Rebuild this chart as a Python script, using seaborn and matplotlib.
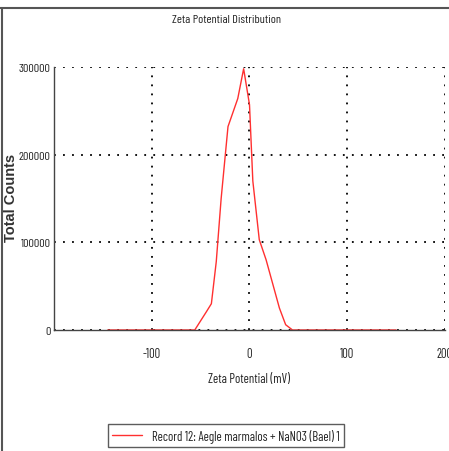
import matplotlib
matplotlib.use("Agg")
import matplotlib.pyplot as plt
import matplotlib.lines as mlines
import seaborn as sns
import pandas as pd

zeta_mv = [-145, -56, -44, -39, -34, -29, -22, -12, -6, 0, 3.4, 10, 17, 30.6, 37, 44, 150]
total_counts = [0, 0, 21000, 30000, 78000, 150000, 232000, 264000, 298000, 257000,
                170000, 103000, 80000, 25000, 6000, 0, 0]
x_major = [-100, 0, 100, 200]
x_minor = [-200, -150, -50, 50, 150]
y_major = [0, 100000, 200000, 300000]
y_minor = [50000, 150000, 250000]
series_label = "Record 12: Aegle marmalos + NaNO3 (Bael) 1"

sns.set_style("white")
narrow = ["Barlow Condensed", "DejaVu Sans"]
plt.rcParams["font.family"] = narrow

df = pd.DataFrame({"Zeta Potential (mV)": zeta_mv, "Total Counts": total_counts})

fig = plt.figure(figsize=(4.49, 4.52), dpi=100)
ax = fig.add_axes([54 / 449, (452 - 331) / 452, (445 - 54) / 449, (331 - 68) / 452])

sns.lineplot(data=df, x="Zeta Potential (mV)", y="Total Counts", ax=ax,
             color="#ff3030", lw=1.0, sort=False, estimator=None)

ax.set_xlim(-200, 200)
ax.set_ylim(0, 300000)
ax.set_xticks(x_major)
ax.set_xticks(x_minor, minor=True)
ax.set_yticks(y_major)
ax.set_yticks(y_minor, minor=True)
ax.set_xticklabels([str(v) for v in x_major], fontsize=9)
ax.set_yticklabels([str(v) for v in y_major], fontsize=8.8)
ax.tick_params(axis="x", which="both", direction="inout", length=7, width=0.8, color="#444444",
               pad=9, labelcolor="#222222")
ax.tick_params(axis="y", which="major", direction="out", length=3, width=0.8, color="#444444",
               pad=-0.5, labelcolor="#222222")
ax.tick_params(axis="y", which="minor", direction="in", length=4, width=0.8, color="#444444")

ax.grid(True, which="major", color="black", linestyle=(0, (1, 4)), lw=1.3)
for s in ["top", "right"]:
    ax.spines[s].set_visible(False)
for s in ["left", "bottom"]:
    ax.spines[s].set_color("#444444")
    ax.spines[s].set_linewidth(1.0)

ax.set_xlabel("Zeta Potential (mV)", fontsize=9.2, labelpad=8.5, color="#222222")
ax.set_ylabel("")
fig.text(11 / 449, 1 - 198 / 452, "Total Counts", rotation=90, ha="center", va="center",
         fontsize=10.5, fontweight="bold", family=["Liberation Sans", "DejaVu Sans"], color="#333333")
fig.text(227 / 449, 1 - 20 / 452, "Zeta Potential Distribution", ha="center", va="center",
         fontsize=8.8, color="#222222")

# figure border lines (top and left)
fig.add_artist(mlines.Line2D([0, 1], [1 - 9 / 452, 1 - 9 / 452], transform=fig.transFigure,
                             color="#555555", lw=1.5))
fig.add_artist(mlines.Line2D([1.5 / 449, 1.5 / 449], [0, 1 - 9 / 452], transform=fig.transFigure,
                             color="#555555", lw=1.5))

handle = mlines.Line2D([], [], color="#ff3030", lw=1.0)
leg = fig.legend([handle], [series_label], loc="lower left",
                 bbox_to_anchor=(108 / 449, 1 - 448 / 452), fontsize=9.2, frameon=True,
                 fancybox=False, shadow=False, handlelength=2.3, borderpad=0.35,
                 borderaxespad=0, handletextpad=0.8, labelcolor="#222222")
leg.get_frame().set_edgecolor("#333333")
leg.get_frame().set_linewidth(1.0)

fig.savefig("out.png", dpi=100)
